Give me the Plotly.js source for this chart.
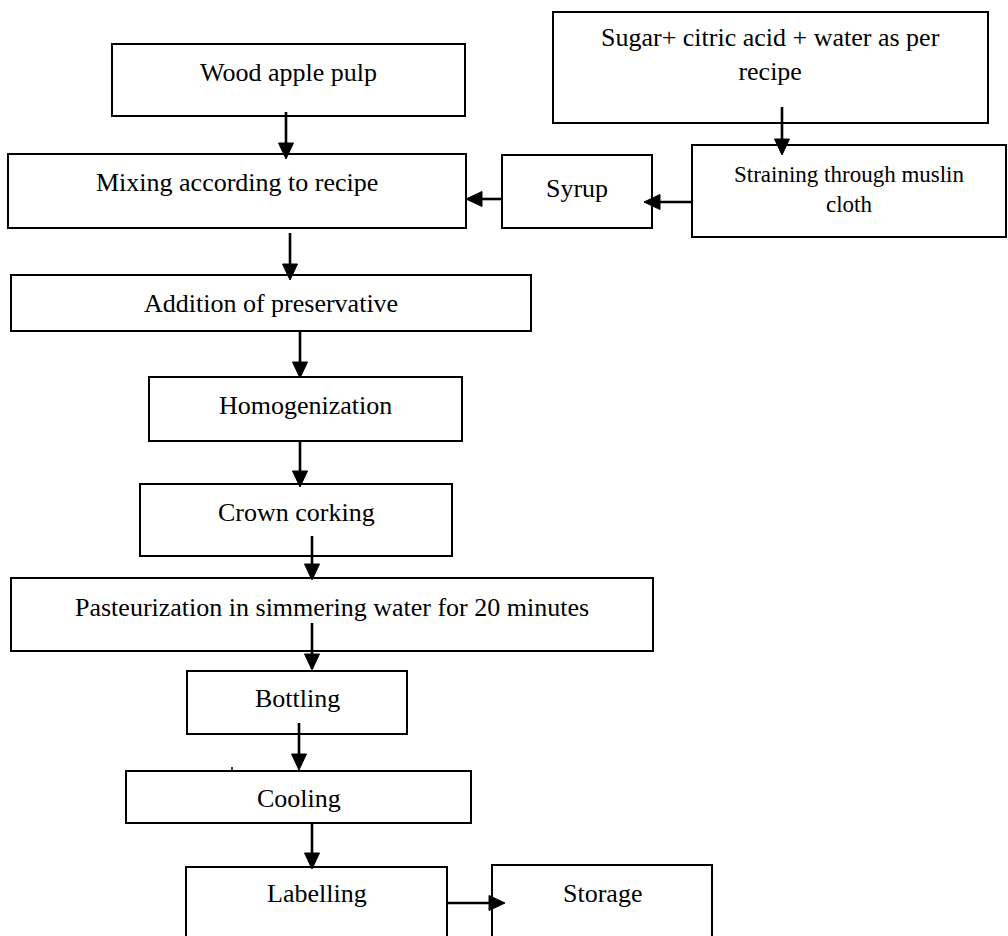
<!DOCTYPE html>
<html>
<head>
<meta charset="utf-8">
<script src="https://cdn.plot.ly/plotly-3.0.1.min.js"></script>
<style>html,body{margin:0;padding:0;background:#fff;}#chart{width:1008px;height:936px;}</style>
</head>
<body>
<div id="chart"></div>
<script>
// Flowchart steps
const stepLabels = [
  "Wood apple pulp",
  "Sugar+ citric acid + water as per<br>recipe",
  "Mixing according to recipe",
  "Syrup",
  "Straining through muslin<br>cloth",
  "Addition of preservative",
  "Homogenization",
  "Crown corking",
  "Pasteurization in simmering water for 20 minutes",
  "Bottling",
  "Cooling",
  "Labelling",
  "Storage"
];
// Box geometry (pixel space of the picture, y downward)
const boxLeft   = [112, 553,   8, 502, 692,  11, 149, 140,  11, 187, 126, 186, 492];
const boxRight  = [465, 988, 466, 652, 1006, 531, 462, 452, 653, 407, 471, 447, 712];
const boxTop    = [ 44,  12, 154, 155, 145, 275, 377, 484, 578, 671, 771, 867, 865];
const boxBottom = [116, 123, 228, 228, 237, 331, 441, 556, 651, 734, 823, 950, 950];
const textY     = [72, 54, 182, 188, 189, 303, 405, 512, 607, 698, 798, 893, 893];
const textSize  = [26, 26, 26, 26, 23, 26, 26, 26, 26, 26, 26, 26, 26];

// Vertical arrows: x, start y, tip y
const downX     = [286, 782, 290, 300, 300, 312, 312, 299, 312];
const downStart = [112, 107, 233, 331, 441, 536, 623, 723, 823];
const downTip   = [159, 155, 280, 378, 487, 580, 670, 770, 869];
// Horizontal arrows: y, start x, tip x
const sideY     = [202, 199, 903];
const sideStart = [692, 502, 447];
const sideTip   = [644, 466, 505];

const shapes = [];
const annotations = [];
const headLen = 16, headHalf = 7.5;

for (let i = 0; i < stepLabels.length; i++) {
  shapes.push({type: 'rect', xref: 'x', yref: 'y',
    x0: boxLeft[i], x1: boxRight[i], y0: boxTop[i], y1: boxBottom[i],
    line: {color: '#000', width: 2}, fillcolor: 'rgba(0,0,0,0)'});
  annotations.push({xref: 'x', yref: 'y', x: (boxLeft[i] + boxRight[i]) / 2, y: textY[i],
    text: stepLabels[i], showarrow: false, xanchor: 'center', yanchor: 'middle', align: 'center',
    font: {family: 'Liberation Serif, Times New Roman, serif', size: textSize[i], color: '#000'}});
}

for (let i = 0; i < downX.length; i++) {
  const x = downX[i], y0 = downStart[i], y1 = downTip[i];
  shapes.push({type: 'line', xref: 'x', yref: 'y', x0: x, x1: x, y0: y0, y1: y1 - headLen + 2,
    line: {color: '#000', width: 2.6}});
  shapes.push({type: 'path', xref: 'x', yref: 'y',
    path: `M ${x - headHalf},${y1 - headLen} L ${x + headHalf},${y1 - headLen} L ${x},${y1} Z`,
    fillcolor: '#000', line: {color: '#000', width: 1}});
}
for (let i = 0; i < sideY.length; i++) {
  const y = sideY[i], x0 = sideStart[i], x1 = sideTip[i];
  const dir = x1 > x0 ? 1 : -1;
  shapes.push({type: 'line', xref: 'x', yref: 'y', x0: x0, x1: x1 - dir * (headLen - 2), y0: y, y1: y,
    line: {color: '#000', width: 2.6}});
  shapes.push({type: 'path', xref: 'x', yref: 'y',
    path: `M ${x1 - dir * headLen},${y - headHalf} L ${x1 - dir * headLen},${y + headHalf} L ${x1},${y} Z`,
    fillcolor: '#000', line: {color: '#000', width: 1}});
}
// small stray tick above the Cooling box
shapes.push({type: 'line', xref: 'x', yref: 'y', x0: 232, x1: 232, y0: 767, y1: 772,
  line: {color: '#000', width: 1.5}});

const layout = {
  width: 1008, height: 936,
  margin: {l: 0, r: 0, t: 0, b: 0},
  paper_bgcolor: '#fff', plot_bgcolor: '#fff',
  showlegend: false,
  xaxis: {range: [0, 1008], visible: false, fixedrange: true},
  yaxis: {range: [936, 0], visible: false, fixedrange: true},
  shapes: shapes,
  annotations: annotations
};
Plotly.newPlot('chart', [], layout, {displayModeBar: false, staticPlot: true});
</script>
</body>
</html>
